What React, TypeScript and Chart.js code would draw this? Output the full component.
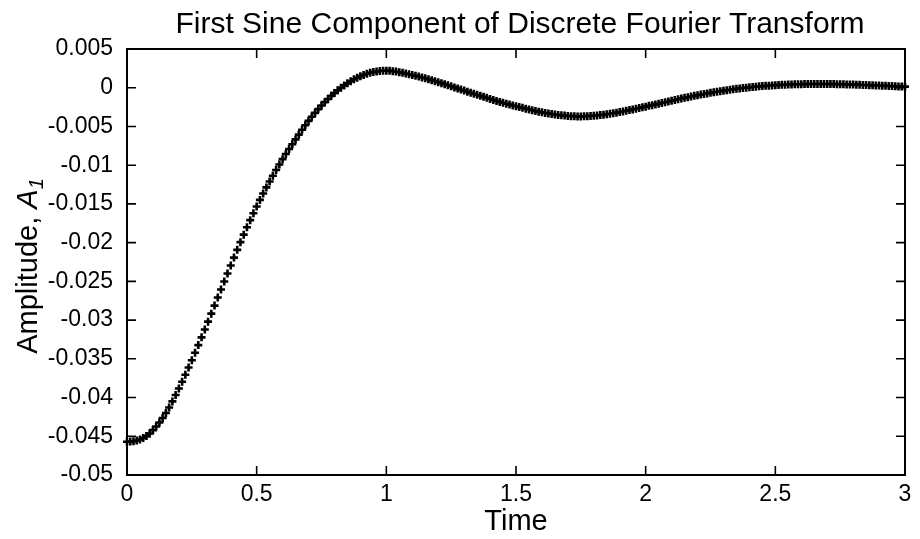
import React, { useEffect, useRef } from "react";
import { Chart, registerables } from "chart.js";

Chart.register(...registerables);

// ---- data ----
const SAMPLE_STEP = 0.0125; // time between samples
const amplitude: number[] = [
  -0.04570, -0.04569, -0.04564, -0.04555, -0.04541, -0.04523, -0.04498, -0.04464,
  -0.04421, -0.04374, -0.04322, -0.04264, -0.04200, -0.04128, -0.04050, -0.03968,
  -0.03883, -0.03796, -0.03706, -0.03613, -0.03518, -0.03422, -0.03323, -0.03223,
  -0.03122, -0.03020, -0.02917, -0.02813, -0.02709, -0.02605, -0.02501, -0.02398,
  -0.02295, -0.02193, -0.02093, -0.01994, -0.01897, -0.01802, -0.01710, -0.01620,
  -0.01533, -0.01448, -0.01366, -0.01287, -0.01210, -0.01136, -0.01063, -0.00992,
  -0.00922, -0.00856, -0.00792, -0.00729, -0.00667, -0.00605, -0.00543, -0.00484,
  -0.00428, -0.00375, -0.00325, -0.00276, -0.00230, -0.00186, -0.00145, -0.00105,
  -0.00068, -0.00033, -0.00001, 0.00030, 0.00058, 0.00084, 0.00108, 0.00129,
  0.00148, 0.00165, 0.00180, 0.00192, 0.00202, 0.00210, 0.00215, 0.00219,
  0.00220, 0.00218, 0.00214, 0.00208, 0.00200, 0.00192, 0.00183, 0.00174,
  0.00165, 0.00155, 0.00144, 0.00133, 0.00122, 0.00110, 0.00098, 0.00085,
  0.00072, 0.00059, 0.00046, 0.00032, 0.00018, 0.00004, -0.00010, -0.00024,
  -0.00037, -0.00051, -0.00065, -0.00079, -0.00092, -0.00105, -0.00118, -0.00131,
  -0.00145, -0.00158, -0.00171, -0.00183, -0.00195, -0.00207, -0.00218, -0.00229,
  -0.00240, -0.00250, -0.00260, -0.00270, -0.00280, -0.00290, -0.00300, -0.00309,
  -0.00318, -0.00326, -0.00333, -0.00340, -0.00346, -0.00351, -0.00356, -0.00360,
  -0.00364, -0.00367, -0.00369, -0.00370, -0.00370, -0.00369, -0.00367, -0.00365,
  -0.00362, -0.00358, -0.00353, -0.00348, -0.00342, -0.00336, -0.00329, -0.00322,
  -0.00314, -0.00306, -0.00298, -0.00289, -0.00280, -0.00271, -0.00262, -0.00253,
  -0.00244, -0.00234, -0.00225, -0.00215, -0.00206, -0.00196, -0.00187, -0.00177,
  -0.00168, -0.00159, -0.00149, -0.00140, -0.00131, -0.00122, -0.00114, -0.00105,
  -0.00097, -0.00089, -0.00081, -0.00073, -0.00066, -0.00059, -0.00052, -0.00045,
  -0.00038, -0.00032, -0.00026, -0.00020, -0.00014, -0.00009, -0.00004, 0.00001,
  0.00006, 0.00010, 0.00014, 0.00018, 0.00021, 0.00024, 0.00027, 0.00030,
  0.00033, 0.00035, 0.00037, 0.00039, 0.00041, 0.00042, 0.00044, 0.00045,
  0.00046, 0.00047, 0.00047, 0.00048, 0.00048, 0.00048, 0.00048, 0.00048,
  0.00048, 0.00047, 0.00047, 0.00046, 0.00045, 0.00044, 0.00043, 0.00042,
  0.00041, 0.00039, 0.00038, 0.00036, 0.00035, 0.00033, 0.00031, 0.00030,
  0.00028, 0.00026, 0.00024, 0.00023, 0.00021, 0.00019, 0.00017, 0.00016,
  0.00014,
];
const xTickValues: number[] = [0, 0.5, 1, 1.5, 2, 2.5, 3];
const yTickValues: number[] = [
  0.005, 0, -0.005, -0.01, -0.015, -0.02, -0.025, -0.03, -0.035, -0.04, -0.045, -0.05,
];
const TITLE = "First Sine Component of Discrete Fourier Transform";
const X_LABEL = "Time";
const Y_LABEL = "Amplitude, ";
const Y_SYMBOL = "A";
const Y_SUBSCRIPT = "1";

const FONT = "'Liberation Sans', Arial, Helvetica, sans-serif";

function fmt(v: number): string {
  const r = Number(v.toFixed(4));
  if (Object.is(r, -0) || r === 0) return "0";
  return String(r);
}

const framePlugin = {
  id: "gnuplotFrame",
  afterDatasetsDraw(chart: any) {
    const { ctx, chartArea, scales } = chart;
    const { left, right, top, bottom } = chartArea;
    ctx.save();
    ctx.strokeStyle = "#000";
    ctx.lineWidth = 2;
    ctx.strokeRect(left, top, right - left, bottom - top);
    const L = 9;
    ctx.lineWidth = 1.6;
    ctx.beginPath();
    for (const v of xTickValues) {
      const px = scales.x.getPixelForValue(v);
      ctx.moveTo(px, bottom);
      ctx.lineTo(px, bottom - L);
      ctx.moveTo(px, top);
      ctx.lineTo(px, top + L);
    }
    for (const v of yTickValues) {
      const py = scales.y.getPixelForValue(v);
      ctx.moveTo(left, py);
      ctx.lineTo(left + L, py);
      ctx.moveTo(right, py);
      ctx.lineTo(right - L, py);
    }
    ctx.stroke();

    ctx.fillStyle = "#000";
    // title
    ctx.font = `30px ${FONT}`;
    ctx.textAlign = "center";
    ctx.textBaseline = "alphabetic";
    ctx.fillText(TITLE, 520, 33);
    // x title
    ctx.font = `29px ${FONT}`;
    ctx.fillText(X_LABEL, (left + right) / 2, 530);
    // y title, rotated
    const cy = (top + bottom) / 2 + 4;
    ctx.translate(37, cy);
    ctx.rotate(-Math.PI / 2);
    ctx.textAlign = "left";
    const fMain = `29px ${FONT}`;
    const fIt = `italic 29px ${FONT}`;
    const fSub = `italic 20px ${FONT}`;
    ctx.font = fMain;
    const w1 = ctx.measureText(Y_LABEL).width;
    ctx.font = fIt;
    const w2 = ctx.measureText(Y_SYMBOL).width;
    ctx.font = fSub;
    const w3 = ctx.measureText(Y_SUBSCRIPT).width;
    let x = -(w1 + w2 + w3) / 2;
    ctx.font = fMain;
    ctx.fillText(Y_LABEL, x, 0);
    x += w1;
    ctx.font = fIt;
    ctx.fillText(Y_SYMBOL, x, 0);
    x += w2;
    ctx.font = fSub;
    ctx.fillText(Y_SUBSCRIPT, x, 6);
    ctx.restore();
  },
};

export default function App() {
  const ref = useRef<HTMLCanvasElement | null>(null);

  useEffect(() => {
    document.body.style.margin = "0";
    const canvas = ref.current;
    if (!canvas) return;
    const points = amplitude.map((v, i) => ({ x: i * SAMPLE_STEP, y: v }));
    const chart = new Chart(canvas, {
      type: "scatter",
      data: {
        datasets: [
          {
            data: points,
            showLine: false,
            pointStyle: "cross",
            pointRadius: 4,
            pointHoverRadius: 4,
            pointBorderWidth: 2.6,
            borderColor: "#000",
            backgroundColor: "#000",
            clip: false as any,
          },
        ],
      },
      options: {
        animation: false,
        responsive: false,
        maintainAspectRatio: false,
        events: [],
        layout: { padding: { top: 49, right: 15, left: 0, bottom: 0 } },
        plugins: {
          legend: { display: false },
          title: { display: false },
          tooltip: { enabled: false },
        },
        scales: {
          x: {
            type: "linear",
            min: 0,
            max: 3,
            grid: { display: false, drawTicks: false },
            border: { display: false },
            afterBuildTicks: (s: any) => {
              s.ticks = xTickValues.map((v) => ({ value: v }));
            },
            afterFit: (s: any) => {
              s.height = 64;
            },
            ticks: {
              color: "#000",
              padding: 6,
              maxRotation: 0,
              autoSkip: false,
              font: { family: FONT, size: 23 },
              callback: (v: any) => fmt(Number(v)),
            },
          },
          y: {
            type: "linear",
            min: -0.05,
            max: 0.005,
            grid: { display: false, drawTicks: false },
            border: { display: false },
            afterBuildTicks: (s: any) => {
              s.ticks = yTickValues.map((v) => ({ value: v }));
            },
            afterFit: (s: any) => {
              s.width = 127;
            },
            ticks: {
              color: "#000",
              padding: 14,
              autoSkip: false,
              font: { family: FONT, size: 23 },
              callback: (v: any) => fmt(Number(v)),
            },
          },
        },
      },
      plugins: [framePlugin],
    });
    return () => chart.destroy();
  }, []);

  return (
    <div style={{ width: 920, height: 539, background: "#fff" }}>
      <canvas ref={ref} width={920} height={539} style={{ display: "block" }} />
    </div>
  );
}
